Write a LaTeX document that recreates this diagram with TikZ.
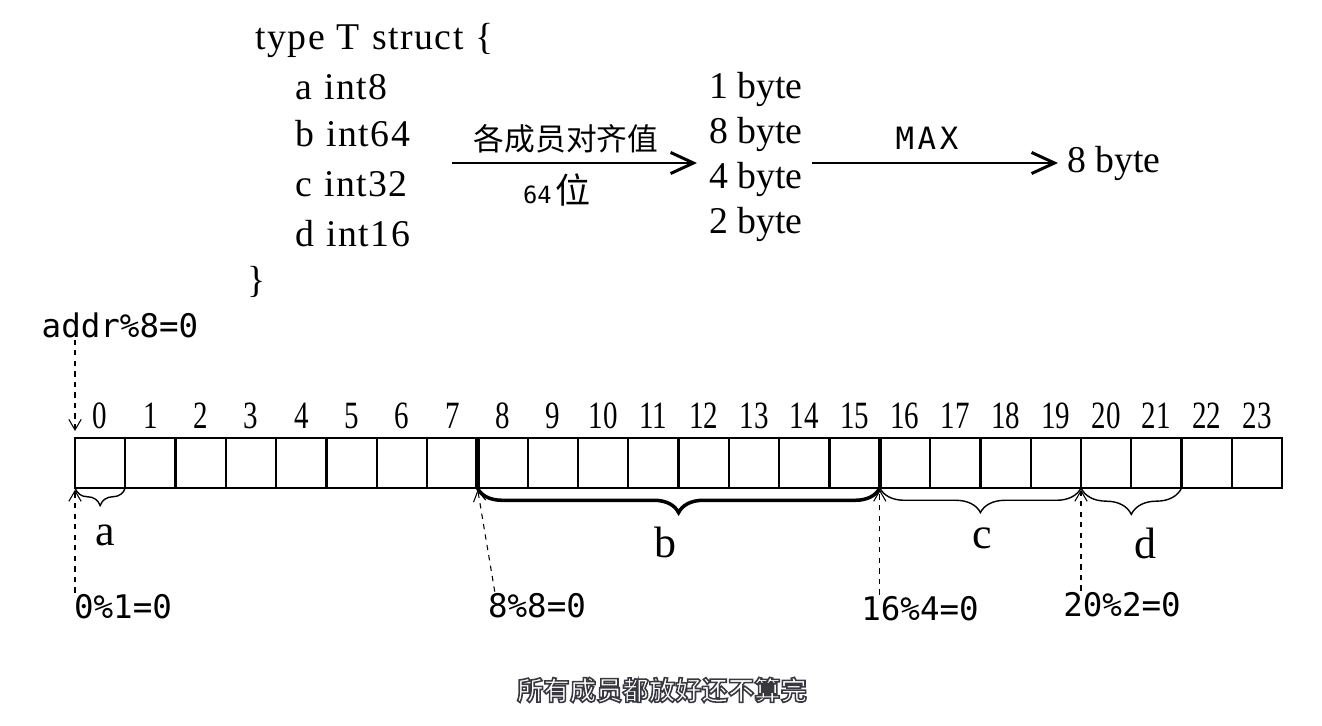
\documentclass[tikz,border=0pt]{standalone}
\usepackage{fontspec}
\setmainfont{Liberation Serif}
\newfontfamily\codefont[LetterSpace=4, WordSpace=1.1]{Liberation Serif}
\newfontfamily\narrowserif[FakeStretch=0.75]{Liberation Serif}
\newfontfamily\handfont{DejaVu Sans Mono}
\newfontfamily\spacedhand[LetterSpace=12]{DejaVu Sans Mono}
\newfontfamily\cjk{Noto Sans CJK SC}
\newfontfamily\cjkbold{Noto Sans CJK SC Bold}
\usetikzlibrary{arrows.meta,decorations.pathreplacing}

\begin{document}
\begin{tikzpicture}[x=0.02cm, y=-0.02cm,
    code/.style={font=\codefont\fontsize{21.5}{24}\selectfont, anchor=base west, inner sep=0pt},
    bytes/.style={font=\fontsize{21.5}{24}\selectfont, anchor=base west, inner sep=0pt},
    idx/.style={font=\narrowserif\fontsize{22}{24}\selectfont, anchor=base, inner sep=0pt},
    cellbox/.style={draw, line width=1.3pt, minimum width=1.006cm, minimum height=1cm, inner sep=0pt, outer sep=0pt},
    hand/.style={font=\handfont\fontsize{18.5}{20}\selectfont, inner sep=1pt},
    member/.style={font=\fontsize{25}{28}\selectfont, anchor=base, inner sep=0pt},
    bigarrow/.style={-{Straight Barb[length=13pt, width=12pt]}, line width=1.7pt},
    dasharrow/.style={-{Straight Barb[length=6pt, width=7pt]}, dashed, line width=0.6pt},
    memberbrace/.style={decorate, decoration={brace, mirror, amplitude=#1}, line width=0.8pt},
    memberbrace/.default=14pt,
    subtext/.style={font=\cjkbold\fontsize{15}{17}\selectfont, inner sep=0pt}]
    \useasboundingbox (0,0) rectangle (1322,726);

    % struct definition
    \node[code] (head) at (255,50) {type T struct \{};
    \node[code] (fa) at (295,100) {a int8};
    \node[code] (fb) at (295,147) {b int64};
    \node[code] (fc) at (295,197) {c int32};
    \node[code] (fd) at (295,247) {d int16};
    \node[font=\fontsize{21.5}{24}\selectfont, inner sep=0pt] (tail) at (257,282) {\}};

    % member alignments
    \node[bytes] (s1) at (709,99) {1 byte};
    \node[bytes] (s8) at (709,144) {8 byte};
    \node[bytes] (s4) at (709,189) {4 byte};
    \node[bytes] (s2) at (709,234) {2 byte};
    \node[font=\fontsize{21.5}{24}\selectfont, anchor=west, inner sep=5pt] (res) at (1058,163) {8 byte};

    \coordinate (a1s) at (452,163);
    \coordinate (a1e) at (697,163);
    \coordinate (a2s) at (812,163);
    \draw[bigarrow] (a1s) -- (a1e);
    \draw[bigarrow] (a2s) -- (res.west);
    \node[font=\cjk\fontsize{17.5}{20}\selectfont] (lbl1) at (566,139) {各成员对齐值};
    \node[inner sep=0pt] (lbl2) at (557,190) {\handfont\fontsize{13.5}{14}\selectfont 64\,\cjk\fontsize{20}{22}\selectfont 位};
    \node[font=\spacedhand\fontsize{17.5}{18}\selectfont, inner sep=0pt] (lmax) at (927,138) {MAX};

    % memory cells
    \foreach \i in {0,...,23} {
        \node[cellbox] (c\i) at ({75+50.3*(\i+0.5)},463) {};
        \node[idx] (n\i) at ({75+50.3*(\i+0.5)},428) {\i};
    }
    \draw[line width=2.4pt] (c8.north west) -- (c8.south west);
    \draw[line width=2pt] (c16.north west) -- (c16.south west);

    % members placed
    \draw[memberbrace=10pt] (c0.south west) -- (c0.south east);
    \draw[memberbrace, line width=2pt] (c8.south west) -- (c15.south east);
    \draw[memberbrace] (c16.south west) -- (c19.south east);
    \draw[memberbrace=15pt] (c20.south west) -- (c21.south east);
    \node[member] (ma) at (105,545) {a};
    \node[member] (mb) at (665,557) {b};
    \node[member] (mc) at (982,548) {c};
    \node[member] (md) at (1145,558) {d};

    % offsets
    \node[hand] (addr) at (120,325) {addr\%8=0};
    \node[hand] (l0) at (123,607) {0\%1=0};
    \node[hand] (l8) at (537,606) {8\%8=0};
    \node[hand] (l16) at (920,609) {16\%4=0};
    \node[hand] (l20) at (1122,605) {20\%2=0};
    \draw[dasharrow, shorten >=4pt] (addr.south -| c0.north west) -- (c0.north west);
    \draw[dasharrow, shorten >=1pt] (l0.north -| c0.south west) -- (c0.south west);
    \draw[dasharrow, shorten >=1pt] ([xshift=5pt]l8.north west) -- (c8.south west);
    \draw[dasharrow, shorten >=1pt] (l16.north -| c16.south west) -- (c16.south west);
    \draw[dasharrow, shorten >=1pt] (l20.north -| c20.south west) -- (c20.south west);

    % subtitle, white with a dark edge
    \node[subtext, text=white] (sub) at (662,690)
        {\special{pdf:literal direct 0.22 0.22 0.25 RG 0.9 w 2 Tr}所有成员都放好还不算完\special{pdf:literal direct 0 Tr}};
\end{tikzpicture}
\end{document}
